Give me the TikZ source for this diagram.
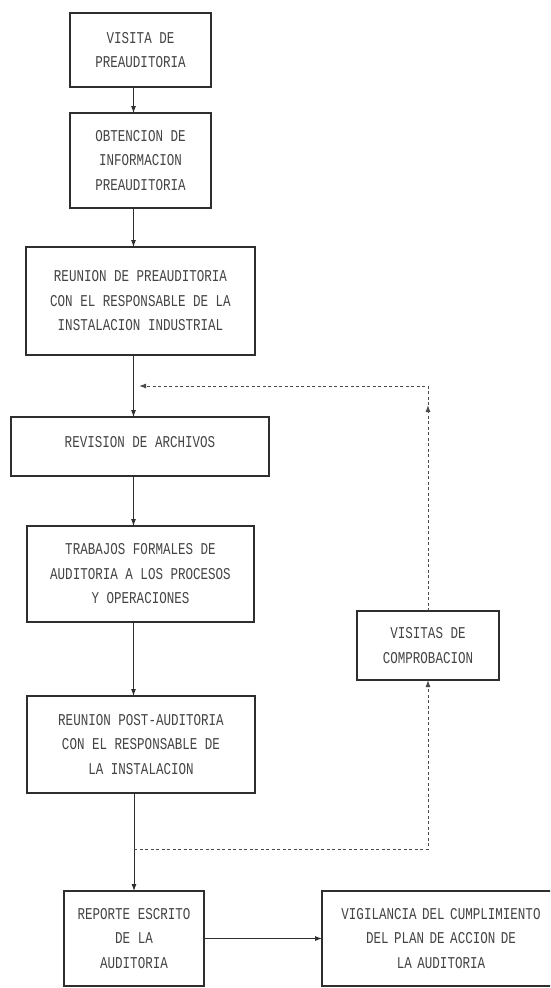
\documentclass[tikz,border=0pt]{standalone}
\usepackage{fontspec}
\newfontfamily\boxfont[FakeStretch=0.76]{Liberation Mono}
\usetikzlibrary{arrows.meta}
\definecolor{ink}{HTML}{2E2E2E}
\definecolor{txt}{HTML}{444444}
\definecolor{dash}{HTML}{4A4A4A}
\tikzset{
  stepbox/.style={draw=ink, line width=1.4pt, inner sep=0pt, outer sep=0pt,
    align=center, text=txt, font=\boxfont\fontsize{16.5}{24.5}\selectfont},
  flow/.style={draw=ink, line width=0.9pt, -{Latex[length=7pt,width=5pt]}},
  loopline/.style={draw=dash, line width=1pt, dash pattern=on 3pt off 2.5pt},
  looparrow/.style={loopline, -{Latex[length=7pt,width=5pt]}}
}
\begin{document}
\begin{tikzpicture}[x=1pt,y=-1pt]
\useasboundingbox (0,0) rectangle (550,988);
\clip (0,0) rectangle (550,988);
\fill[white] (0,0) rectangle (550,988);

\node[stepbox, minimum width=141pt, minimum height=74pt] (b1) at (140.5,50) {VISITA DE\\PREAUDITORIA};
\node[stepbox, minimum width=141pt, minimum height=95pt] (b2) at (140.5,160.5) {OBTENCION DE\\INFORMACION\\PREAUDITORIA};
\node[stepbox, minimum width=229pt, minimum height=108pt] (b3) at (140.5,301) {REUNION DE PREAUDITORIA\\CON EL RESPONSABLE DE LA\\INSTALACION INDUSTRIAL};
\node[stepbox, minimum width=258pt, minimum height=59pt] (b4) at (140,446.5) {\raisebox{10pt}{REVISION DE ARCHIVOS}};
\node[stepbox, minimum width=227pt, minimum height=96pt] (b5) at (140.5,574) {TRABAJOS FORMALES DE\\AUDITORIA A LOS PROCESOS\\Y OPERACIONES};
\node[stepbox, minimum width=228pt, minimum height=97pt] (b6) at (141,744.5) {REUNION POST-AUDITORIA\\CON EL RESPONSABLE DE\\LA INSTALACION};
\node[stepbox, minimum width=142pt, minimum height=69pt] (vis) at (428,645.5) {VISITAS DE\\COMPROBACION};
\node[stepbox, minimum width=140pt, minimum height=95pt] (rep) at (134,938.5) {REPORTE ESCRITO\\DE LA\\AUDITORIA};
\node[stepbox, minimum width=238pt, minimum height=95pt, text width=238pt] (vig) at (441,938.5) {VIGILANCIA DEL CUMPLIMIENTO\\DEL PLAN DE ACCION DE\\LA AUDITORIA};

\coordinate (mx) at (133.5,0);
\draw[flow] (b1.south -| mx) -- (b2.north -| mx);
\draw[flow] (b2.south -| mx) -- (b3.north -| mx);
\draw[flow] (b3.south -| mx) -- (b4.north -| mx);
\draw[flow] (b4.south -| mx) -- (b5.north -| mx);
\draw[flow] (b5.south -| mx) -- (b6.north -| mx);
\draw[flow] (b6.south -| rep.north) -- (rep.north);
\draw[flow] (rep.east) -- (vig.west |- rep.east);

\coordinate (tc) at (428,386);
\coordinate (ta) at (428,405);
\coordinate (tl) at (139,386);
\draw[looparrow] (vis.north) -- (ta);
\draw[looparrow] (ta) -- (tc) -- (tl);

\coordinate (bl) at (134,849);
\coordinate (bc) at (428,849);
\draw[looparrow] (bl) -- (bc) -- (vis.south);
\end{tikzpicture}
\end{document}
